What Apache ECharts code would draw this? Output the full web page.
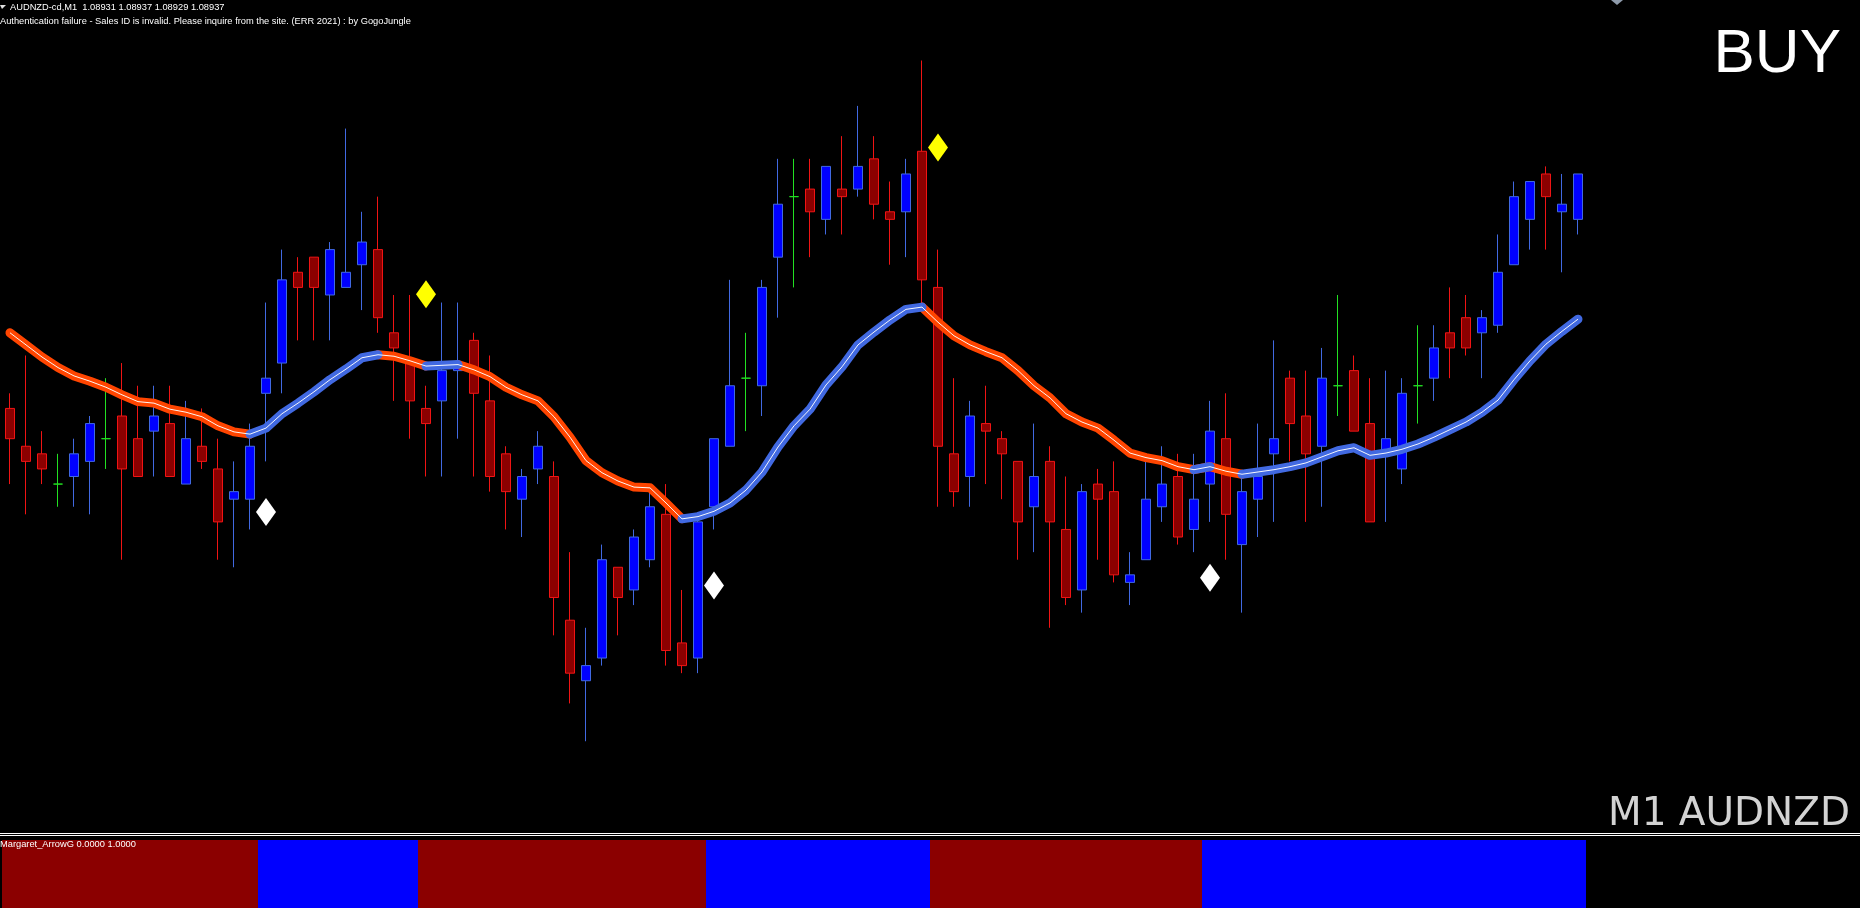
<!DOCTYPE html>
<html>
<head>
<meta charset="utf-8">
<script src="https://cdn.jsdelivr.net/npm/echarts@6/dist/echarts.min.js"></script>
<style>
html,body{margin:0;padding:0;background:#000;overflow:hidden;}
#c{width:1860px;height:908px;}
</style>
</head>
<body>
<div id="c"></div>
<script>
// ---------------- data ----------------
const symbolName = 'AUDNZD-cd';
const timeframe = 'M1';
const authMessage = 'Authentication failure - Sales ID is invalid. Please inquire from the site. (ERR 2021) : by GogoJungle';
const indicatorLabel = 'Margaret_ArrowG 0.0000 1.0000';
const signalText = 'BUY';
const cornerText = 'M1 AUDNZD';

const open = [1.08906,1.08901,1.08900,1.08896,1.08897,1.08899,1.08902,1.08905,1.08902,1.08903,
1.08904,1.08896,1.08901,1.08898,1.08894,1.08894,1.08908,1.08912,1.08924,1.08926,
1.08921,1.08922,1.08925,1.08927,1.08916,1.08912,1.08906,1.08907,1.08911,1.08915,
1.08907,1.08900,1.08894,1.08898,1.08897,1.08878,1.08870,1.08873,1.08885,1.08882,
1.08886,1.08892,1.08875,1.08873,1.08893,1.08901,1.08910,1.08909,1.08926,1.08934,
1.08935,1.08931,1.08935,1.08935,1.08939,1.08932,1.08932,1.08940,1.08922,1.08900,
1.08897,1.08904,1.08902,1.08899,1.08893,1.08899,1.08890,1.08882,1.08896,1.08895,
1.08883,1.08886,1.08893,1.08897,1.08890,1.08896,1.08902,1.08888,1.08894,1.08900,
1.08910,1.08905,1.08901,1.08909,1.08911,1.08904,1.08900,1.08898,1.08909,1.08910,
1.08916,1.08918,1.08916,1.08917,1.08925,1.08931,1.08937,1.08932,1.08931];

const close = [1.08902,1.08899,1.08898,1.08896,1.08900,1.08904,1.08902,1.08898,1.08897,1.08905,
1.08897,1.08902,1.08899,1.08891,1.08895,1.08901,1.08910,1.08923,1.08922,1.08922,
1.08927,1.08924,1.08928,1.08918,1.08914,1.08907,1.08904,1.08911,1.08912,1.08908,
1.08897,1.08895,1.08897,1.08901,1.08881,1.08871,1.08872,1.08886,1.08881,1.08889,
1.08893,1.08874,1.08872,1.08891,1.08902,1.08909,1.08910,1.08922,1.08933,1.08934,
1.08932,1.08938,1.08934,1.08938,1.08933,1.08931,1.08937,1.08923,1.08901,1.08895,
1.08905,1.08903,1.08900,1.08891,1.08897,1.08891,1.08881,1.08895,1.08894,1.08884,
1.08884,1.08894,1.08896,1.08889,1.08894,1.08903,1.08892,1.08895,1.08897,1.08902,
1.08904,1.08900,1.08910,1.08909,1.08903,1.08891,1.08902,1.08908,1.08909,1.08914,
1.08914,1.08914,1.08918,1.08924,1.08934,1.08936,1.08934,1.08933,1.08937];

const low = [1.08896,1.08892,1.08896,1.08893,1.08893,1.08892,1.08898,1.08886,1.08897,1.08897,
1.08897,1.08896,1.08898,1.08886,1.08885,1.08890,1.08899,1.08908,1.08915,1.08915,
1.08915,1.08922,1.08919,1.08916,1.08907,1.08902,1.08897,1.08897,1.08902,1.08897,
1.08895,1.08890,1.08889,1.08896,1.08876,1.08867,1.08862,1.08872,1.08876,1.08880,
1.08885,1.08872,1.08871,1.08871,1.08890,1.08901,1.08903,1.08905,1.08918,1.08922,
1.08926,1.08929,1.08929,1.08934,1.08931,1.08925,1.08926,1.08919,1.08893,1.08893,
1.08893,1.08896,1.08894,1.08886,1.08887,1.08877,1.08880,1.08879,1.08886,1.08883,
1.08880,1.08886,1.08891,1.08888,1.08887,1.08891,1.08886,1.08879,1.08889,1.08891,
1.08899,1.08891,1.08893,1.08905,1.08903,1.08891,1.08891,1.08896,1.08904,1.08907,
1.08910,1.08913,1.08910,1.08916,1.08925,1.08927,1.08927,1.08924,1.08929];

const high = [1.08908,1.08913,1.08903,1.08900,1.08902,1.08905,1.08910,1.08912,1.08909,1.08909,
1.08909,1.08907,1.08906,1.08902,1.08899,1.08904,1.08920,1.08927,1.08926,1.08926,
1.08928,1.08943,1.08932,1.08934,1.08921,1.08921,1.08909,1.08920,1.08920,1.08916,
1.08913,1.08901,1.08898,1.08903,1.08899,1.08887,1.08877,1.08888,1.08885,1.08890,
1.08895,1.08896,1.08882,1.08892,1.08902,1.08923,1.08916,1.08923,1.08939,1.08939,
1.08939,1.08938,1.08942,1.08946,1.08942,1.08936,1.08939,1.08952,1.08927,1.08910,
1.08907,1.08909,1.08903,1.08899,1.08904,1.08901,1.08897,1.08896,1.08898,1.08899,
1.08887,1.08899,1.08901,1.08900,1.08900,1.08907,1.08908,1.08897,1.08904,1.08915,
1.08911,1.08911,1.08914,1.08921,1.08913,1.08910,1.08911,1.08910,1.08917,1.08917,
1.08922,1.08921,1.08919,1.08929,1.08936,1.08936,1.08938,1.08937,1.08937];

// moving average line
const ma = [1.089160,1.089144,1.089128,1.089114,1.089103,1.089096,1.089088,1.089078,1.089069,1.089067,
1.089059,1.089055,1.089049,1.089037,1.089029,1.089026,1.089034,1.089053,1.089067,1.089082,
1.089098,1.089112,1.089127,1.089131,1.089129,1.089123,1.089116,1.089117,1.089118,1.089111,
1.089102,1.089088,1.089078,1.089070,1.089049,1.089022,1.088991,1.088975,1.088964,1.088956,
1.088955,1.088935,1.088914,1.088917,1.088924,1.088935,1.088952,1.088976,1.089009,1.089037,
1.089059,1.089091,1.089115,1.089144,1.089161,1.089177,1.089191,1.089194,1.089174,1.089156,
1.089144,1.089135,1.089127,1.089110,1.089090,1.089074,1.089053,1.089042,1.089034,1.089018,
1.089001,1.088995,1.088991,1.088983,1.088979,1.088983,1.088977,1.088973,1.088976,1.088979,
1.088983,1.088988,1.088996,1.089004,1.089008,1.088998,1.089001,1.089006,1.089013,1.089022,
1.089032,1.089042,1.089055,1.089071,1.089098,1.089123,1.089145,1.089162,1.089178];

// colour state of the MA segment ending at each bar: 1 = up (blue), -1 = down (orange)
const maState = [-1,-1,-1,-1,-1,-1,-1,-1,-1,-1,-1,-1,-1,-1,-1,-1,
1,1,1,1,1,1,1,1,
-1,-1,-1,
1,1,
-1,-1,-1,-1,-1,-1,-1,-1,-1,-1,-1,-1,-1,-1,
1,1,1,1,1,1,1,1,1,1,1,1,1,1,1,
-1,-1,-1,-1,-1,-1,-1,-1,-1,-1,-1,-1,-1,-1,-1,-1,-1,
1,
-1,-1,
1,1,1,1,1,1,1,1,1,1,1,1,1,1,1,1,1,1,1,1,1];

// sub-window arrow state per bar: 1 = blue (buy), -1 = dark red (sell)
const arrowState = [-1,-1,-1,-1,-1,-1,-1,-1,-1,-1,-1,-1,-1,-1,-1,-1,
1,1,1,1,1,1,1,1,1,1,
-1,-1,-1,-1,-1,-1,-1,-1,-1,-1,-1,-1,-1,-1,-1,-1,-1,-1,
1,1,1,1,1,1,1,1,1,1,1,1,1,1,
-1,-1,-1,-1,-1,-1,-1,-1,-1,-1,-1,-1,-1,-1,-1,-1,-1,
1,1,1,1,1,1,1,1,1,1,1,1,1,1,1,1,1,1,1,1,1,1,1,1];

const buyIndex = [16, 44, 75];
const buyPrice = [1.088923, 1.088826, 1.088836];
const sellIndex = [26, 58];
const sellPrice = [1.089211, 1.089405];

const totalSlots = 116;          // bars that fit in the window (incl. empty right shift)
const priceMin = 1.08850, priceMax = 1.08960;

// ---------------- build ----------------
const categories = [];
for (let i = 0; i < totalSlots; i++) categories.push('bar ' + (i + 1));

const candles = open.map((o, i) => [o, close[i], low[i], high[i]]);
const maDown = ma.map((v, i) => (maState[i] === -1 || maState[i + 1] === -1) ? v : null);
const maUp = ma.map((v, i) => (maState[i] === 1 || maState[i + 1] === 1) ? v : null);
const bars = arrowState.map(s => ({ value: 1, itemStyle: { color: s > 0 ? '#0000FF' : '#8B0000' } }));
const buyPts = buyIndex.map((x, k) => [x, buyPrice[k]]);
const sellPts = sellIndex.map((x, k) => [x, sellPrice[k]]);
const last = open.length - 1;
const f5 = v => v.toFixed(5);
const headerLine = symbolName + ',' + timeframe + '  ' + f5(open[last]) + ' ' + f5(high[last]) + ' ' + f5(low[last]) + ' ' + f5(close[last]);

const chart = echarts.init(document.getElementById('c'), null, { renderer: 'canvas', width: 1860, height: 908 });
const smallFont = '9.3px "Liberation Sans", Arial, sans-serif';

chart.setOption({
  backgroundColor: '#000000',
  animation: false,
  grid: [
    { left: 2, top: 0, width: totalSlots * 16, height: 832 },
    { left: 2, top: 840, width: totalSlots * 16, height: 68 }
  ],
  xAxis: [
    { type: 'category', gridIndex: 0, data: categories, boundaryGap: true, show: false },
    { type: 'category', gridIndex: 1, data: categories, boundaryGap: true, show: false }
  ],
  yAxis: [
    { type: 'value', gridIndex: 0, min: priceMin, max: priceMax, show: false, splitLine: { show: false } },
    { type: 'value', gridIndex: 1, min: 0, max: 1, show: false, splitLine: { show: false } }
  ],
  series: [
    {
      name: 'bid', type: 'line', xAxisIndex: 0, yAxisIndex: 0, z: 1,
      data: new Array(open.length).fill(null), showSymbol: false, silent: true,
      markLine: {
        silent: true, symbol: ['none', 'none'], label: { show: false },
        lineStyle: { color: '#9A9EAE', width: 1, type: 'solid' },
        emphasis: { disabled: true },
        data: [{ yAxis: close[last] }]
      }
    },
    {
      name: 'price', type: 'candlestick', xAxisIndex: 0, yAxisIndex: 0, z: 3,
      data: candles, barWidth: 10, silent: true,
      itemStyle: {
        color: '#0000FF', color0: '#8B0000',
        borderColor: '#4169E1', borderColor0: '#F01414',
        borderColorDoji: '#22E022', borderWidth: 1
      }
    },
    {
      name: 'maDown', type: 'line', xAxisIndex: 0, yAxisIndex: 0, z: 4,
      data: maDown, showSymbol: false, connectNulls: false, silent: true,
      lineStyle: { color: '#FF4500', width: 9, cap: 'round', join: 'round' }
    },
    {
      name: 'maUp', type: 'line', xAxisIndex: 0, yAxisIndex: 0, z: 4,
      data: maUp, showSymbol: false, connectNulls: false, silent: true,
      lineStyle: { color: '#4169E1', width: 9, cap: 'round', join: 'round' }
    },
    {
      name: 'maCore', type: 'line', xAxisIndex: 0, yAxisIndex: 0, z: 5,
      data: ma, showSymbol: false, silent: true,
      lineStyle: { color: '#FFFFFF', width: 1, opacity: 0.95 }
    },
    {
      name: 'buy', type: 'scatter', xAxisIndex: 0, yAxisIndex: 0, z: 6,
      data: buyPts, symbol: 'diamond', symbolSize: [20, 28], silent: true,
      itemStyle: { color: '#FFFFFF', opacity: 1 }
    },
    {
      name: 'sell', type: 'scatter', xAxisIndex: 0, yAxisIndex: 0, z: 6,
      data: sellPts, symbol: 'diamond', symbolSize: [20, 28], silent: true,
      itemStyle: { color: '#FFFF00', opacity: 1 }
    },
    {
      name: 'arrow', type: 'bar', xAxisIndex: 1, yAxisIndex: 1, z: 2,
      data: bars, barCategoryGap: '0%', barGap: '0%', silent: true
    }
  ],
  graphic: [
    { type: 'polygon', z: 100, shape: { points: [[0, 5], [6, 5], [2, 9]] }, style: { fill: '#E0E0E0' } },
    { type: 'text', z: 100, x: 10, y: 7.5, style: { text: headerLine, font: smallFont, fill: '#FFFFFF', align: 'left', verticalAlign: 'middle' } },
    { type: 'text', z: 100, x: 0, y: 21, style: { text: authMessage, font: smallFont, fill: '#FFFFFF', align: 'left', verticalAlign: 'middle' } },
    { type: 'polygon', z: 100, shape: { points: [[1611, 0], [1623, 0], [1617, 5]] }, style: { fill: '#8E9AAA' } },
    { type: 'text', z: 100, x: 1841, y: 55, style: { text: signalText, font: '62px "Liberation Sans", Arial, sans-serif', fill: '#FFFFFF', align: 'right', verticalAlign: 'middle' } },
    { type: 'text', z: 100, x: 1608, y: 815, style: { text: cornerText, font: '39px "DejaVu Sans", sans-serif', fill: '#D3D3D3', align: 'left', verticalAlign: 'middle' } },
    { type: 'rect', z: 100, shape: { x: 0, y: 833, width: 1860, height: 1 }, style: { fill: '#FFFFFF' } },
    { type: 'rect', z: 100, shape: { x: 0, y: 835, width: 1860, height: 1 }, style: { fill: '#FFFFFF' } },
    { type: 'text', z: 100, x: 0, y: 844.5, style: { text: indicatorLabel, font: smallFont, fill: '#FFFFFF', align: 'left', verticalAlign: 'middle' } }
  ]
});
</script>
</body>
</html>
